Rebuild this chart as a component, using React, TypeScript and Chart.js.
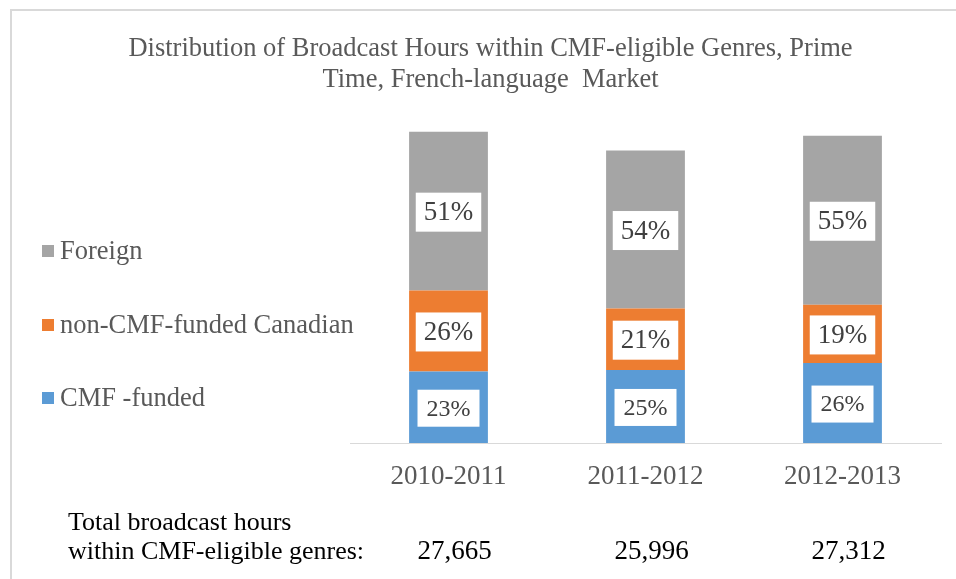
import React, { useEffect, useRef } from "react";
import { Chart, registerables } from "chart.js";

Chart.register(...registerables);

const categories = ["2010-2011", "2011-2012", "2012-2013"];
const totals = [27665, 25996, 27312];
const totalLabels = ["27,665", "25,996", "27,312"];
const cmfShare = [23, 25, 26];
const nonCmfShare = [26, 21, 19];
const foreignShare = [51, 54, 55];
const seriesNames = ["CMF -funded", "non-CMF-funded Canadian", "Foreign"];
const titleLines = [
  "Distribution of Broadcast Hours within CMF-eligible Genres, Prime",
  "Time, French-language  Market",
];
const footLines = ["Total broadcast hours", "within CMF-eligible genres:"];

const FONT = "Liberation Serif";
const colors = ["#5B9BD5", "#ED7D31", "#A5A5A5"];

const toHours = (shares: number[]) => shares.map((s, i) => (totals[i] * s) / 100);

const decorPlugin = {
  id: "decor",
  beforeDraw(chart: any) {
    const ctx = chart.ctx;
    ctx.save();
    ctx.fillStyle = "#ffffff";
    ctx.fillRect(0, 0, chart.width, chart.height);
    ctx.strokeStyle = "#d9d9d9";
    ctx.lineWidth = 2;
    ctx.beginPath();
    ctx.moveTo(11, chart.height);
    ctx.lineTo(11, 10);
    ctx.lineTo(chart.width, 10);
    ctx.stroke();
    ctx.restore();
  },
  afterDatasetsDraw(chart: any) {
    const ctx = chart.ctx;
    ctx.save();
    ctx.textAlign = "center";
    ctx.textBaseline = "middle";
    chart.data.datasets.forEach((ds: any, di: number) => {
      const meta = chart.getDatasetMeta(di);
      const size = di === 0 ? 24 : 27;
      ctx.font = `${size}px "${FONT}"`;
      meta.data.forEach((bar: any, i: number) => {
        const label = ds.shares[i] + "%";
        const cx = bar.x;
        const cy = (bar.y + bar.base) / 2;
        const w = ctx.measureText(label).width + (di === 0 ? 18 : 16);
        const h = di === 0 ? 37 : 39;
        ctx.fillStyle = "#ffffff";
        ctx.fillRect(cx - w / 2, cy - h / 2 + 1, w, h);
        ctx.fillStyle = "#404040";
        ctx.fillText(label, cx, cy + 2);
      });
    });
    ctx.restore();
  },
  afterDraw(chart: any) {
    const ctx = chart.ctx;
    ctx.save();
    const legendY = [251, 325, 398];
    ctx.font = `26.5px "${FONT}"`;
    ctx.textBaseline = "middle";
    ctx.textAlign = "left";
    const order = [2, 1, 0];
    order.forEach((di, k) => {
      const ds = chart.data.datasets[di];
      ctx.fillStyle = ds.backgroundColor;
      ctx.fillRect(42, legendY[k] - 6, 12, 12);
      ctx.fillStyle = "#595959";
      ctx.fillText(ds.label, 60, legendY[k] + 1);
    });
    ctx.fillStyle = "#000000";
    ctx.font = `26px "${FONT}"`;
    ctx.fillText(footLines[0], 68, 523);
    ctx.fillText(footLines[1], 68, 552);
    ctx.font = `27px "${FONT}"`;
    ctx.textAlign = "center";
    const xs = chart.scales.x;
    totalLabels.forEach((t, i) => {
      ctx.fillText(t, xs.getPixelForValue(i) + 6, 552);
    });
    ctx.restore();
  },
};

export default function App() {
  const ref = useRef<HTMLCanvasElement | null>(null);
  useEffect(() => {
    if (!ref.current) return;
    const shares = [cmfShare, nonCmfShare, foreignShare];
    const chart = new Chart(ref.current, {
      type: "bar",
      data: {
        labels: categories,
        datasets: shares.map((s, i) => ({
          label: seriesNames[i],
          data: toHours(s),
          shares: s,
          backgroundColor: colors[i],
          borderWidth: 0,
          categoryPercentage: 0.8,
          barPercentage: 0.5,
        })) as any,
      },
      options: {
        animation: false,
        responsive: false,
        layout: { padding: { left: 40, right: 15, top: 10, bottom: 0 } },
        plugins: {
          legend: { display: false },
          tooltip: { enabled: false },
          title: {
            display: true,
            text: titleLines,
            color: "#595959",
            font: { family: FONT, size: 26.5, weight: "normal", lineHeight: 1.18 },
            padding: { top: 23, bottom: 10 },
          },
        },
        scales: {
          x: {
            stacked: true,
            grid: { display: false, drawTicks: false },
            border: { display: true, color: "#d9d9d9", width: 1 },
            ticks: {
              color: "#595959",
              font: { family: FONT, size: 27, lineHeight: 1.2 },
              padding: 18,
            },
            afterFit(scale: any) {
              scale.height = 136;
            },
          },
          y: {
            stacked: true,
            min: 0,
            max: 30000,
            grid: { display: false, drawTicks: false },
            border: { display: false },
            ticks: { display: false },
            afterFit(scale: any) {
              scale.width = 310;
            },
          },
        },
      },
      plugins: [decorPlugin],
    });
    return () => chart.destroy();
  }, []);
  return (
    <canvas
      ref={ref}
      width={956}
      height={579}
      style={{ position: "absolute", left: 0, top: 0, width: 956, height: 579 }}
    />
  );
}
